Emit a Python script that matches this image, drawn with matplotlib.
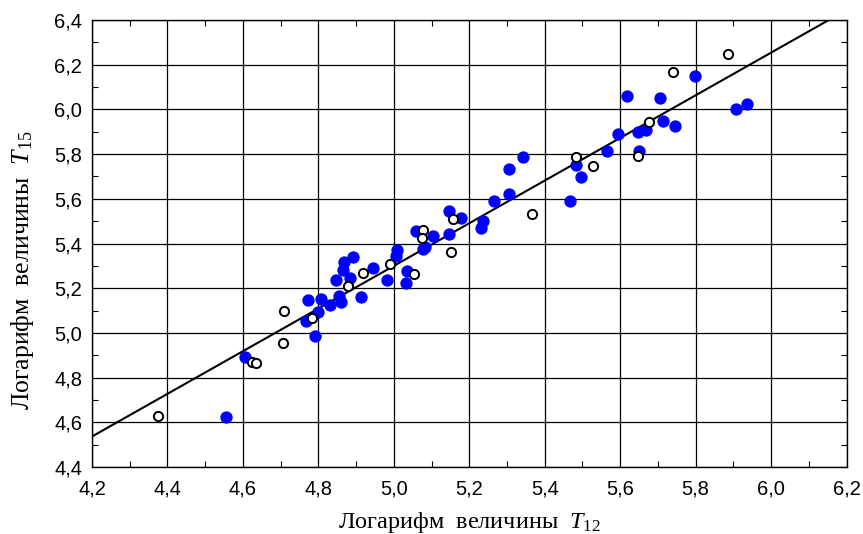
import numpy as np
import matplotlib
matplotlib.use('Agg')
import matplotlib.pyplot as plt
from matplotlib.ticker import MultipleLocator, FuncFormatter

plt.rcParams['mathtext.fontset'] = 'custom'
plt.rcParams['mathtext.rm'] = 'Liberation Serif'
plt.rcParams['mathtext.it'] = 'Liberation Serif:italic'

# filled (blue) points: log T12, log T15
blue_x = [4.555, 4.605, 4.791, 4.767, 4.773, 4.798, 4.806, 4.830, 4.861, 4.855,
          4.914, 4.848, 4.885, 4.866, 4.868, 4.892, 4.944, 4.982, 5.005, 5.009,
          5.034, 5.032, 5.058, 5.076, 5.082, 5.104, 5.146, 5.146, 5.179, 5.235,
          5.232, 5.265, 5.305, 5.305, 5.343, 5.468, 5.482, 5.497, 5.565, 5.593,
          5.619, 5.647, 5.667, 5.649, 5.706, 5.713, 5.744, 5.797, 5.906, 5.936]
blue_y = [4.625, 4.891, 4.988, 5.055, 5.147, 5.095, 5.150, 5.125, 5.140, 5.165,
          5.159, 5.237, 5.244, 5.281, 5.319, 5.338, 5.292, 5.237, 5.344, 5.371,
          5.278, 5.225, 5.456, 5.374, 5.383, 5.434, 5.442, 5.547, 5.513, 5.502,
          5.468, 5.592, 5.620, 5.732, 5.786, 5.592, 5.751, 5.696, 5.815, 5.890,
          6.061, 5.898, 5.908, 5.815, 6.049, 5.950, 5.926, 6.151, 6.000, 6.024]

# open points
open_x = [4.374, 4.625, 4.634, 4.707, 4.709, 4.782, 4.879, 4.917, 4.991, 5.054,
          5.076, 5.075, 5.151, 5.157, 5.366, 5.482, 5.528, 5.647, 5.676, 5.740,
          5.886]
open_y = [4.630, 4.871, 4.867, 4.956, 5.098, 5.065, 5.210, 5.267, 5.308, 5.264,
          5.460, 5.423, 5.363, 5.509, 5.531, 5.786, 5.747, 5.792, 5.945, 6.169,
          6.248]

x_ticks = [4.2, 4.4, 4.6, 4.8, 5.0, 5.2, 5.4, 5.6, 5.8, 6.0, 6.2]
y_ticks = [4.4, 4.6, 4.8, 5.0, 5.2, 5.4, 5.6, 5.8, 6.0, 6.2, 6.4]

fig = plt.figure(figsize=(8.63, 5.34), dpi=100)
ax = fig.add_axes([0.1066, 0.1255, 0.8744, 0.837])

# linear fit over all points
all_x = np.array(blue_x + open_x)
all_y = np.array(blue_y + open_y)
k, b = np.polyfit(all_x, all_y, 1)
xx = np.array([4.2, 6.2])
ax.plot(xx, k * xx + b, color='black', lw=1.5, zorder=2)

ax.scatter(blue_x, blue_y, s=62, color='#0000ff', edgecolors='#0000ff', zorder=3)
ax.scatter(open_x, open_y, s=44, facecolors='white', edgecolors='black',
           linewidths=1.4, zorder=4)

ax.set_xlim(4.2, 6.2)
ax.set_ylim(4.4, 6.4)
ax.set_xticks(x_ticks)
ax.set_yticks(y_ticks)
ax.xaxis.set_minor_locator(MultipleLocator(0.1))
ax.yaxis.set_minor_locator(MultipleLocator(0.1))
comma = FuncFormatter(lambda v, p: ('%.1f' % v).replace('.', ','))
ax.xaxis.set_major_formatter(comma)
ax.yaxis.set_major_formatter(comma)
ax.tick_params(which='both', direction='in', top=True, right=True,
               labelfontfamily='Liberation Sans', labelsize=14.5)
ax.tick_params(axis='x', which='major', length=0, pad=9)
ax.tick_params(axis='y', which='major', length=0, pad=7)
ax.tick_params(which='minor', length=4, width=0.8)
ax.grid(True, which='major', color='black', lw=0.9)
ax.set_axisbelow(True)
for s in ax.spines.values():
    s.set_linewidth(1.0)

ax.set_xlabel('Логарифм  величины  $\\mathit{T}_{\\mathrm{12}}$',
              fontfamily='Liberation Serif', fontsize=17.5)
ax.set_ylabel('Логарифм  величины  $\\mathit{T}_{\\mathrm{15}}$',
              fontfamily='Liberation Serif', fontsize=18.5)
ax.xaxis.set_label_coords(0.5, -0.097)
ax.yaxis.set_label_coords(-0.074, 0.44)

fig.savefig('out.png', dpi=100)
